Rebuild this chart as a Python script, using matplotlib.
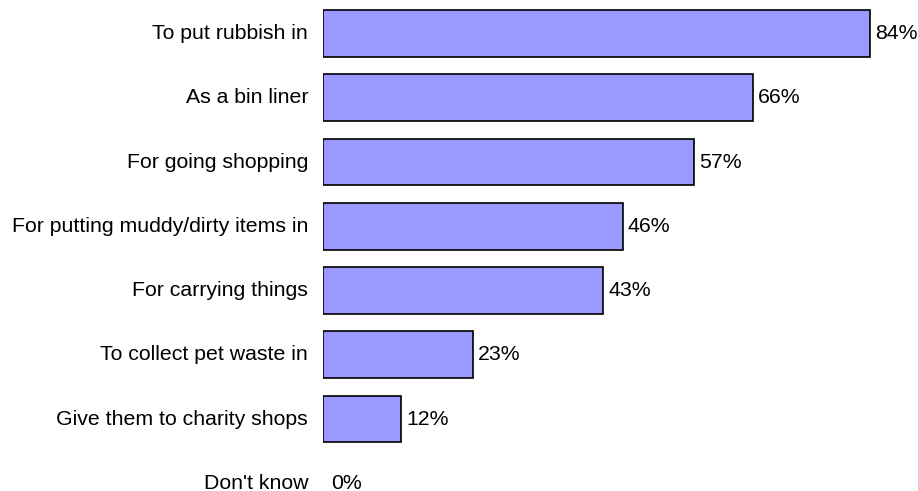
import matplotlib.pyplot as plt

plt.rcParams["font.family"] = ["Liberation Sans", "DejaVu Sans"]

categories = [
    "To put rubbish in",
    "As a bin liner",
    "For going shopping",
    "For putting muddy/dirty items in",
    "For carrying things",
    "To collect pet waste in",
    "Give them to charity shops",
    "Don't know",
]
values = [84, 66, 57, 46, 43, 23, 12, 0]

W, H = 918, 491
fig = plt.figure(figsize=(W / 100, H / 100), dpi=100)

# axes placed in pixel terms: bar base at x=323, 84% reaching x=870
x0 = 323
px_per_unit = (870 - x0) / 84
xmax = 90
ax = fig.add_axes([x0 / W, 0, xmax * px_per_unit / W, 1])

row_h = 64.25
first_c = 33.5
ax.set_ylim((H - first_c) / row_h, -first_c / row_h)
ax.set_xlim(0, xmax)

pos = list(range(len(categories)))
edges = ["black" if v > 0 else "none" for v in values]
ax.barh(pos, values, height=0.73, color="#9999ff", edgecolor=edges, linewidth=1.2)

for y, v, c in zip(pos, values, categories):
    ax.annotate(f"{v}%", (v, y), xytext=(5 if v else 8, 0), textcoords="offset pixels",
                ha="left", va="center", fontsize=15.3, annotation_clip=False)
    ax.annotate(c, (0, y), xytext=(-15, 0), textcoords="offset pixels",
                ha="right", va="center", fontsize=15.3, annotation_clip=False)

ax.axis("off")
fig.savefig("out.png", dpi=100)
